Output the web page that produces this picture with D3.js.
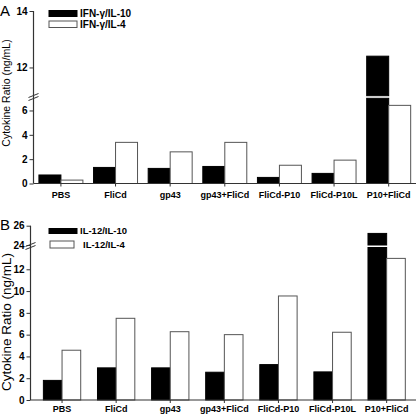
<!DOCTYPE html>
<html><head><meta charset="utf-8">
<script src="https://cdn.jsdelivr.net/npm/d3@7"></script>
<style>
html,body{margin:0;padding:0;background:#fff;}
svg{display:block;font-family:"Liberation Sans",Arial,sans-serif;}
</style></head>
<body>
<svg id="chart" width="416" height="415"></svg>
<script>
const categories = ["PBS","FliCd","gp43","gp43+FliCd","FliCd-P10","FliCd-P10L","P10+FliCd"];
const seriesA = ["IFN-\u03b3/IL-10","IFN-\u03b3/IL-4"];
const ifnIL10 = [0.7, 1.32, 1.24, 1.4, 0.5, 0.83, 12.4];
const ifnIL4  = [0.28, 3.38, 2.6, 3.38, 1.5, 1.92, 6.42];
const seriesB = ["IL-12/IL-10","IL-12/IL-4"];
const il12IL10 = [1.8, 2.95, 2.95, 2.55, 3.25, 2.58, 25.2];
const il12IL4  = [4.57, 7.5, 6.27, 6.0, 9.55, 6.22, 13.0];
const ticksALow = [0,2,4,6], ticksAHigh = [12,14];
const ticksBLow = [0,2,4,6,8,10,12], ticksBHigh = [24,26];
const yTitle = "Cytokine Ratio (ng/mL)";

const svg = d3.select("#chart");
const FONT = "Liberation Sans, Arial, sans-serif";

function panel(cfg){
  const g = svg.append("g");
  const yLow = d3.scaleLinear().domain(cfg.lowDomain).range(cfg.lowRange);
  const yHigh = d3.scaleLinear().domain(cfg.highDomain).range(cfg.highRange);
  const x = d3.scaleBand().domain(categories).range(cfg.xRange)
      .paddingInner(cfg.pad).paddingOuter(cfg.pad/2);
  const x1 = d3.scaleBand().domain(cfg.series).range([0, x.bandwidth()]);
  const lowMax = cfg.lowDomain[1], highMin = cfg.highDomain[0];
  const data = [];
  categories.forEach((c,i)=>{
    cfg.series.forEach((s,j)=>{
      const v = cfg.values[j][i];
      const xx = x(c)+x1(s), w = x1.bandwidth();
      if (v > lowMax){
        data.push({x:xx,w,y0:yLow(0),y1:yLow(lowMax),j});
        data.push({x:xx,w,y0:yHigh(highMin),y1:yHigh(v),j});
      } else {
        data.push({x:xx,w,y0:yLow(0),y1:yLow(v),j});
      }
    });
  });
  g.selectAll("rect.bar").data(data).join("rect").attr("class","bar")
    .attr("x",d=>d.x).attr("y",d=>d.y1).attr("width",d=>d.w).attr("height",d=>d.y0-d.y1)
    .attr("fill",d=>d.j===0?"#000":"#fff")
    .attr("stroke",d=>d.j===0?"#000":"#555").attr("stroke-width",1);

  const ax = cfg.xRange0;
  const fmt = d3.format("d");
  const yl = g.append("g").attr("transform",`translate(${ax},0)`)
    .call(d3.axisLeft(yLow).tickValues(cfg.ticksLow).tickFormat(fmt).tickSize(4).tickPadding(2));
  const yh = g.append("g").attr("transform",`translate(${ax},0)`)
    .call(d3.axisLeft(yHigh).tickValues(cfg.ticksHigh).tickFormat(fmt).tickSize(4).tickPadding(2));
  [yl,yh].forEach(a=>{
    a.select(".domain").remove();
    a.selectAll("line").attr("stroke","#333");
    a.selectAll("text").attr("font-size",cfg.tickFont).attr("font-weight","bold").attr("fill","#000")
      .attr("font-family",FONT);
  });
  g.append("line").attr("x1",ax).attr("x2",ax).attr("y1",cfg.highRange[1]).attr("y2",yLow(0))
    .attr("stroke","#333").attr("stroke-width",1.2);
  const by = cfg.breakY;
  [-1.5,1.5].forEach(o=>{
    g.append("line").attr("x1",ax-5).attr("x2",ax+5).attr("y1",by+o+2).attr("y2",by+o-2)
      .attr("stroke","#333").attr("stroke-width",1);
  });
  const xa = g.append("g").attr("transform",`translate(0,${yLow(0)})`)
    .call(d3.axisBottom(x).tickSize(3).tickPadding(cfg.xPad));
  xa.select(".domain").remove();
  g.append("line").attr("x1",ax).attr("x2",416).attr("y1",yLow(0)).attr("y2",yLow(0))
    .attr("stroke","#333").attr("stroke-width",1.2);
  xa.selectAll("line").attr("stroke","#333");
  xa.selectAll("text").attr("font-size",9).attr("font-weight","bold").attr("fill","#000")
    .attr("font-family",FONT);

  g.append("text").attr("transform",`translate(${cfg.titleX},${cfg.titleY}) rotate(-90)`)
    .attr("text-anchor","middle").attr("font-size",cfg.titleFont).attr("fill","#000").text(yTitle);
  g.append("text").attr("x",0).attr("y",cfg.letterY).attr("font-size",15).attr("fill","#000").text(cfg.letter);
  const lg = g.append("g");
  cfg.legend.forEach((L,j)=>{
    lg.append("rect").attr("x",L.x).attr("y",L.y).attr("width",L.w).attr("height",L.h)
      .attr("fill",j===0?"#000":"#fff").attr("stroke",j===0?"#000":"#555").attr("stroke-width",1);
    lg.append("text").attr("x",L.tx).attr("y",L.y+L.h/2).attr("dy","0.35em")
      .attr("font-size",cfg.legendFont).attr("font-weight","bold").attr("fill","#000").text(cfg.series[j]);
  });
}

panel({
  letter:"A", letterY:16,
  series:seriesA, values:[ifnIL10, ifnIL4],
  lowDomain:[0,7], lowRange:[183.5,98.3],
  highDomain:[11,14], highRange:[95.7,11],
  ticksLow:ticksALow, ticksHigh:ticksAHigh,
  xRange:[33.6,416], xRange0:33.5, pad:0.195, xPad:5,
  breakY:97, tickFont:10, titleX:9.5, titleY:93, titleFont:10.5,
  legendFont:10,
  legend:[{x:49,y:10.5,w:28,h:6,tx:80},{x:49,y:21,w:28,h:6.5,tx:80}]
});
panel({
  letter:"B", letterY:230,
  series:seriesB, values:[il12IL10, il12IL4],
  lowDomain:[0,14], lowRange:[400,247.5],
  highDomain:[24,26], highRange:[245,225.7],
  ticksLow:ticksBLow, ticksHigh:ticksBHigh,
  xRange:[35,413.7], xRange0:30.5, pad:0.31, xPad:2.5,
  breakY:246, tickFont:10, titleX:11, titleY:322, titleFont:13.5,
  legendFont:9.5,
  legend:[{x:49,y:228.5,w:28,h:5,tx:80},{x:50,y:241,w:24,h:7,tx:83}]
});
</script>
</body></html>
